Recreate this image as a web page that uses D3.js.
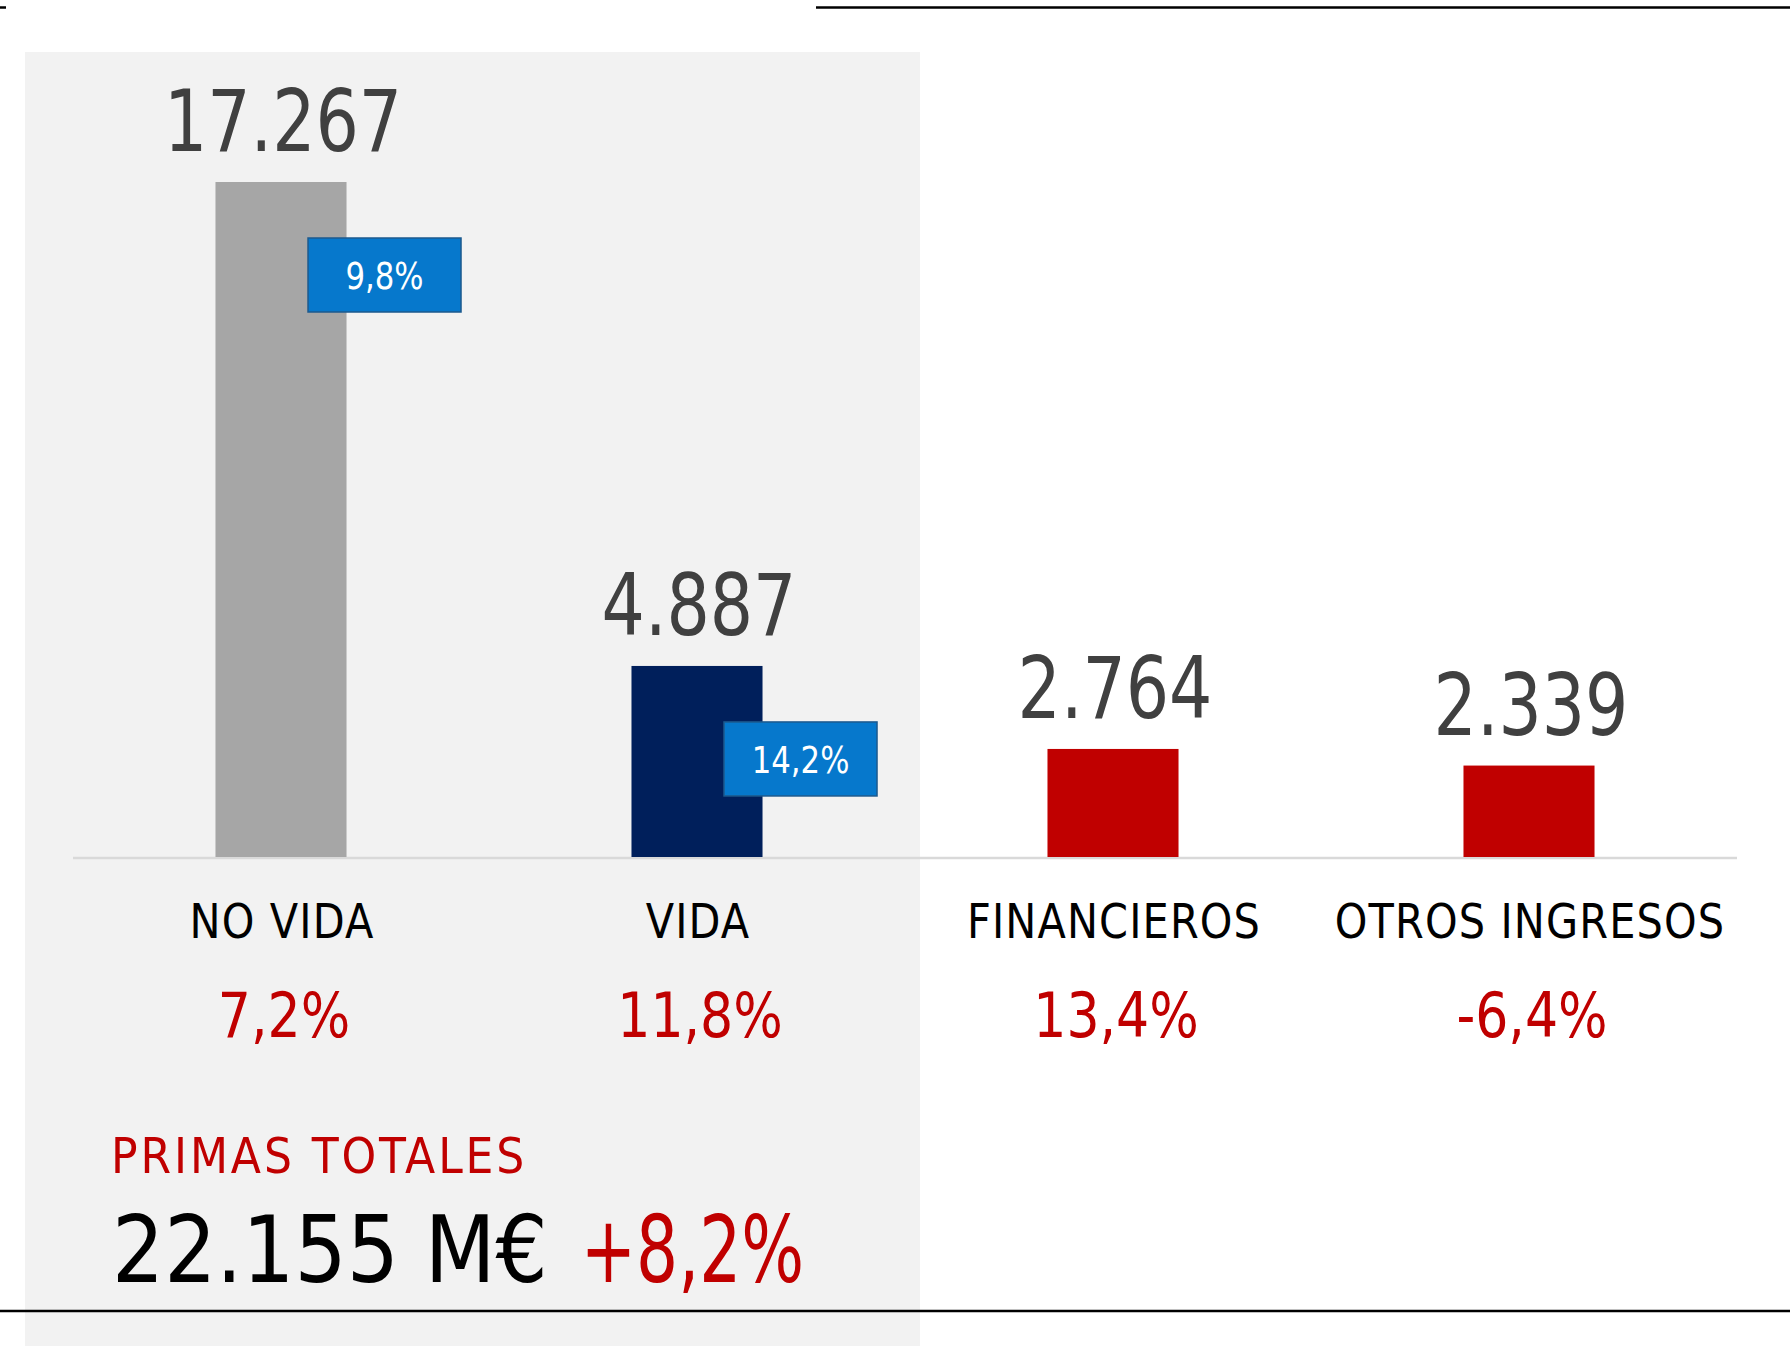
<!DOCTYPE html>
<html>
<head>
<meta charset="utf-8">
<script src="https://cdn.jsdelivr.net/npm/d3@7"></script>
<style>
  html, body { margin: 0; padding: 0; background: #ffffff; }
  svg { display: block; }
  text { font-family: "DejaVu Sans Condensed", "DejaVu Sans", sans-serif; }
</style>
</head>
<body>
<svg id="chart" width="1790" height="1346"></svg>
<script>
// ---- data ----
const categories = ["NO VIDA", "VIDA", "FINANCIEROS", "OTROS INGRESOS"];
const values = [17267, 4887, 2764, 2339];
const valueLabels = ["17.267", "4.887", "2.764", "2.339"];
const changeLabels = ["7,2%", "11,8%", "13,4%", "-6,4%"];
const badgeLabels = ["9,8%", "14,2%", null, null];
const barColors = ["#a6a6a6", "#001f5b", "#c00000", "#c00000"];
const totalTitle = "PRIMAS TOTALES";
const totalValue = "22.155 M€";
const totalChange = "+8,2%";

// ---- layout ----
const W = 1790, H = 1346;
const svg = d3.select("#chart");

// text helper: horizontally condensed text to mimic a DIN-style face
function label(parent, o) {
  return parent.append("text")
    .attr("transform", `translate(${o.x},${o.y}) scale(${o.sx || 1},1)`)
    .attr("text-anchor", o.anchor || "start")
    .attr("font-size", o.size)
    .attr("letter-spacing", o.ls || 0)
    .attr("fill", o.fill)
    .text(o.text);
}

// background panel (first two categories)
svg.append("rect").attr("x", 25).attr("y", 52).attr("width", 895).attr("height", H - 52).attr("fill", "#f2f2f2");

// decorative rules
svg.append("line").attr("x1", 816).attr("x2", W).attr("y1", 7.5).attr("y2", 7.5).attr("stroke", "#000").attr("stroke-width", 2.5);
svg.append("line").attr("x1", 0).attr("x2", 6).attr("y1", 7.5).attr("y2", 7.5).attr("stroke", "#000").attr("stroke-width", 2.5);
svg.append("line").attr("x1", 0).attr("x2", W).attr("y1", 1311).attr("y2", 1311).attr("stroke", "#000").attr("stroke-width", 2.5);

const x = d3.scaleBand().domain(categories).range([73, 1737]).paddingInner(0.685).paddingOuter(0.685 / 2);
const y = d3.scaleLinear().domain([0, 17267]).range([857, 182]);
const cx = d => x(d) + x.bandwidth() / 2;

// baseline
svg.append("line").attr("x1", 73).attr("x2", 1737).attr("y1", y(0) + 1).attr("y2", y(0) + 1).attr("stroke", "#d9d9d9").attr("stroke-width", 2.5);

const g = svg.append("g");

g.selectAll("rect.bar").data(categories).join("rect")
  .attr("class", "bar")
  .attr("x", d => x(d))
  .attr("width", x.bandwidth())
  .attr("y", (d, i) => y(values[i]))
  .attr("height", (d, i) => y(0) - y(values[i]))
  .attr("fill", (d, i) => barColors[i]);

categories.forEach((d, i) => {
  // value label
  label(g, { x: cx(d) + 2, y: y(values[i]) - 31, anchor: "middle", size: 86, sx: 0.88, fill: "#404040", text: valueLabels[i] });
  // category label
  label(g, { x: cx(d) + 1, y: 938, anchor: "middle", size: 48, sx: 0.96, ls: 1.2, fill: "#000", text: d });
  // change label
  label(g, { x: cx(d) + 3, y: 1037, anchor: "middle", size: 63, sx: 0.92, fill: "#c00000", text: changeLabels[i] });
});

// badges
const badgeW = 153, badgeH = 74;
categories.forEach((d, i) => {
  if (badgeLabels[i] === null) return;
  const bx = x(d) + x.bandwidth() + 38;
  const by = y(values[i]) + 93;
  const b = g.append("g").attr("class", "badge").attr("transform", `translate(${bx},${by})`);
  b.append("rect")
    .attr("x", -badgeW / 2).attr("y", -badgeH / 2)
    .attr("width", badgeW).attr("height", badgeH)
    .attr("fill", "#0678cc").attr("stroke", "#1d5a8e").attr("stroke-width", 1.5);
  label(b, { x: 0, y: 14, anchor: "middle", size: 38, sx: 0.9, fill: "#ffffff", text: badgeLabels[i] });
});

// totals
label(svg, { x: 111, y: 1173, size: 49, sx: 1.0, ls: 2.9, fill: "#c00000", text: totalTitle });
const tv = label(svg, { x: 112, y: 1282, size: 93, sx: 0.98, fill: "#000", text: totalValue });
const tvW = tv.node().getComputedTextLength() * 0.98;
label(svg, { x: 112 + tvW + 33, y: 1282, size: 93, sx: 0.79, fill: "#c00000", text: totalChange });
</script>
</body>
</html>
